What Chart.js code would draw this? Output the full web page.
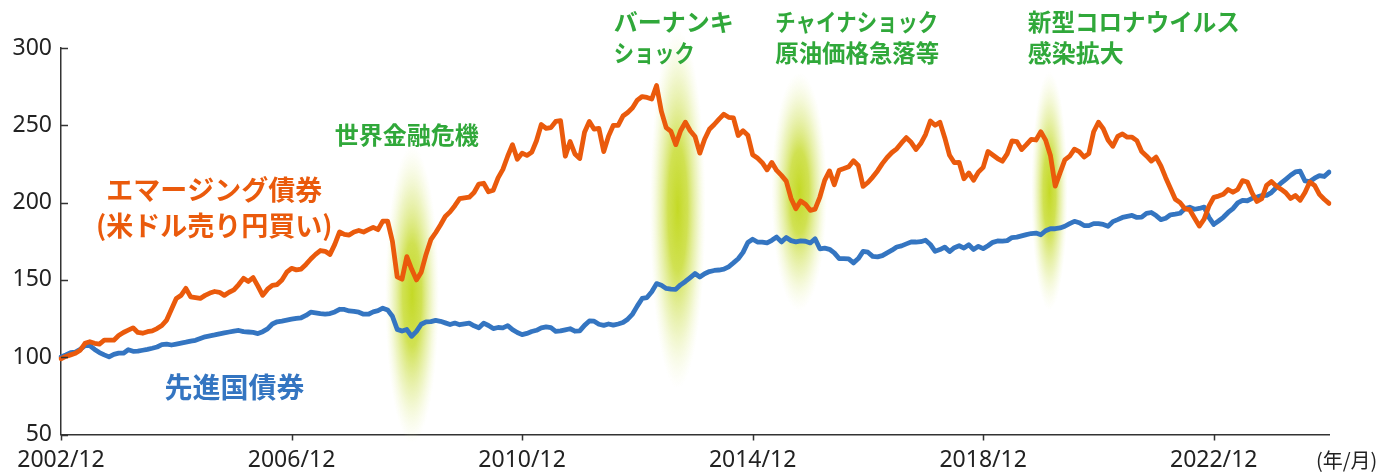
<!DOCTYPE html>
<html lang="ja">
<head>
<meta charset="utf-8">
<script src="https://cdn.jsdelivr.net/npm/chart.js@4.4.1/dist/chart.umd.min.js"></script>
<style>
  html, body { margin: 0; padding: 0; background: #fff; }
  #wrap { width: 1385px; height: 472px; }
</style>
</head>
<body>
<div id="wrap"><canvas id="grafico" width="1385" height="472"></canvas></div>
<script>
// Séries mensais, 2002/12 = 100
const emergentes = [
  99,
  100.5, 101.5, 102.5, 104.5, 109, 110, 109, 108.5, 111, 111, 111, 114,
  116, 117.5, 119, 116, 115.5, 116.5, 117, 118.5, 120.5, 124, 131, 138,
  140, 144.5, 139, 138.5, 138, 140, 141.5, 142.5, 142, 140, 142, 143.5,
  147, 151, 149, 151.5, 146, 140, 144, 146.5, 147, 150, 155, 157.5,
  156.5, 157, 160, 163.5, 166.5, 169, 168.5, 166.5, 173, 181, 179.5, 179,
  181, 182, 181, 182.5, 184, 182.5, 188, 188, 175, 152, 150.5, 165,
  157, 150, 155, 166.5, 176, 180.5, 185.5, 191, 194, 198, 202.5, 203,
  203.5, 206.5, 212, 212.5, 207, 208, 216, 221.5, 230, 237.5, 228, 232,
  230.5, 232.5, 240, 250.5, 248, 248.5, 252.5, 253, 230, 239.5, 231.5, 228.5,
  245.5, 252.5, 247.5, 248, 233, 243, 250, 250, 256, 258.3, 261.3, 266.3,
  268.6, 268, 267, 275.7, 259, 248.5, 246, 237.5, 246.5, 252, 246.5, 242.8,
  232, 241, 247.4, 250.5, 254, 257.1, 255.2, 254.8, 243.4, 246.5, 243.6, 231,
  228.8, 225.8, 221.2, 226, 220.8, 217.6, 213.9, 202.7, 196, 201, 199, 195,
  195.8, 203.6, 214.4, 220.5, 211.5, 220.9, 222, 223.2, 227.1, 224, 210.5, 213,
  216.5, 220.5, 225.2, 229.2, 232.4, 234.8, 238.6, 242, 239, 234.4, 238.2, 244,
  252.8, 250, 251.9, 242, 230.6, 225.8, 226, 215.4, 219.2, 214.5, 219.7, 222.8,
  233.1, 230.8, 228.5, 226.8, 231.5, 239.9, 239.5, 234.3, 237.5, 240.9, 240.5, 245.8,
  240.4, 230.5, 210.7, 219.2, 227.6, 230, 234.6, 233, 229.5, 231.7, 245.8, 252,
  247.8, 240.5, 236.4, 242.8, 244.4, 242.3, 242.3, 240.1, 233.1, 230.2, 226.9, 229.4,
  223.7, 216.1, 209.1, 202.2, 200, 196, 195.4, 190, 184.8, 189.3, 197.7, 203.4,
  204.2, 205.4, 208.5, 206.7, 208.5, 214.2, 213.3, 206.1, 200.7, 202.5, 211.1, 213.6,
  210.7, 208.7, 206.4, 202.6, 204.6, 201.5, 206.5, 213.3, 211.1, 205.3, 202.2, 199.5
];

const desenvolvidos = [
  100.2,
  101.5, 102.9, 103.3, 105, 107.5, 107.5, 105, 103, 101.5, 100.2, 101.8, 102.6,
  102.6, 104.8, 103.8, 103.9, 104.5, 105.1, 105.8, 106.6, 108.1, 108.5, 107.9, 108.5,
  109.1, 109.7, 110.4, 110.9, 112.1, 113.2, 113.8, 114.4, 115.1, 115.7, 116.3, 116.9,
  117.3, 116.5, 116.3, 116, 115.3, 116.5, 118.3, 121.5, 122.9, 123.4, 124, 124.6,
  125.1, 125.5, 127, 129.1, 128.7, 128.2, 127.9, 128.2, 129.3, 131, 130.9, 129.9,
  129.6, 129.1, 127.8, 127.8, 129.3, 130.1, 131.7, 130.6, 126.5, 118, 116.9, 117.9,
  113.5, 116.7, 121.3, 122.8, 123, 123.8, 123.2, 122.2, 121.1, 122.1, 121, 121.5,
  122, 120.3, 119, 122, 120.5, 118.5, 119.2, 119, 120.4, 117.8, 116, 114.6,
  115.4, 116.6, 117.4, 119, 119.6, 119.1, 116.7, 117, 117.7, 118.4, 116.8, 117,
  120.6, 123.4, 123.3, 121.3, 120.6, 121.5, 120.7, 121.5, 122.4, 124.6, 127.9, 133.2,
  138, 138.6, 142.3, 147.6, 146.5, 144.5, 144, 143.9, 146.8, 149, 151.5, 154.1,
  151.9, 154, 155.4, 156.1, 156.4, 156.9, 158.5, 161, 163.7, 167.8, 174.2, 176.3,
  174.5, 174.4, 173.9, 175.6, 177.7, 174.6, 177.4, 175.4, 174.6, 175.2, 175, 173.9,
  176.6, 170.1, 170.5, 169.8, 167.5, 163.8, 163.8, 163.6, 161, 163.8, 168.4, 167.9,
  165.2, 164.9, 165.7, 167.5, 169.2, 171.3, 172, 173.3, 174.5, 174.5, 174.7, 175.7,
  172.9, 168.5, 169.6, 171.2, 168.3, 170.8, 172.1, 170.6, 172.7, 169.7, 171.7, 170.2,
  172.1, 174.3, 175.2, 175.1, 175.4, 177.4, 177.7, 178.5, 179.3, 180, 180.3, 179.2,
  181.8, 183.1, 183.1, 183.6, 184.7, 186.4, 187.9, 187, 185.2, 185.1, 186.4, 186.4,
  185.9, 184.7, 187.7, 189, 190.4, 191.1, 191.7, 190.4, 190.6, 193, 193.6, 191.6,
  189, 189.9, 192.1, 192.5, 193.1, 196.2, 197, 195.7, 196.2, 197.1, 190.5, 185.9,
  188.1, 190.5, 193.6, 196.1, 199.8, 201.5, 201.2, 202.8, 203.6, 204.5, 204.7, 206.5,
  209.6, 212.6, 215.1, 217.7, 219.8, 220.3, 214, 213.6, 215.8, 217.4, 216.9, 219.7
];

const rotulosX = ['2002/12', '2006/12', '2010/12', '2014/12', '2018/12', '2022/12'];
const ticksY = [50, 100, 150, 200, 250, 300];

// Meses: 2002/12 em diante
const meses = [];
for (let i = 0; i < emergentes.length; i++) {
    const total = 2002 * 12 + 11 + i;
    meses.push(Math.floor(total / 12) + '/' + String(total % 12 + 1).padStart(2, '0'));
}

const laranja = '#ea5a0c';
const azul = '#3475c1';
const verde = '#30a83a';
const corEixo = '#333333';

// Eventos (brilho verde): mês central, valor central, meia altura (valor), meia largura (meses)
const brilhos = [
    { mes: 73.1, valor: 140.5, meiaAltura: 96, meiaLargura: 5.6 },
    { mes: 128.4, valor: 196, meiaAltura: 116, meiaLargura: 5.8 },
    { mes: 153.7, valor: 207, meiaAltura: 77, meiaLargura: 5.8 },
    { mes: 205.8, valor: 207.5, meiaAltura: 77, meiaLargura: 3.8 }
];

// Textos de anotação, ancorados na escala (larguras = largura máx. de cada linha)
const notas = [
    { linhas: ['エマージング債券', '(米ドル売り円買い)'], mes: 31.9, valor: 208.2, cor: laranja, alinhar: 'center', tamanho: 27, entrelinha: 36 },
    { linhas: ['先進国債券'], mes: 36.1, valor: 80.6, cor: azul, alinhar: 'center', tamanho: 28, entrelinha: 0 },
    { linhas: ['世界金融危機'], mes: 72, valor: 243.7, cor: verde, alinhar: 'center', tamanho: 24, entrelinha: 0 },
    { linhas: ['バーナンキ', 'ショック'], larguras: [121, 81], mes: 115.1, valor: 316.8, cor: verde, alinhar: 'left', tamanho: 24, entrelinha: 31 },
    { linhas: ['チャイナショック', '原油価格急落等'], larguras: [163, 164], mes: 148.7, valor: 316.8, cor: verde, alinhar: 'left', tamanho: 24, entrelinha: 31 },
    { linhas: ['新型コロナウイルス', '感染拡大'], larguras: [212, 96], mes: 201.3, valor: 316.8, cor: verde, alinhar: 'left', tamanho: 24, entrelinha: 31 }
];

const brilhoPlugin = {
    id: 'brilho',
    beforeDatasetsDraw(chart) {
        const { ctx, scales: { x, y } } = chart;
        const passo = x.width / (meses.length - 1);
        brilhos.forEach(b => {
            const cx = x.getPixelForValue(b.mes);
            const cy = y.getPixelForValue(b.valor);
            const ry = Math.abs(y.getPixelForValue(b.valor + b.meiaAltura) - cy);
            const rx = b.meiaLargura * passo;
            ctx.save();
            ctx.translate(cx, cy);
            ctx.scale(rx / ry, 1);
            const g = ctx.createRadialGradient(0, 0, 0, 0, 0, ry);
            g.addColorStop(0, 'rgba(196,217,38,1)');
            g.addColorStop(0.35, 'rgba(200,220,52,0.85)');
            g.addColorStop(0.7, 'rgba(214,230,110,0.4)');
            g.addColorStop(1, 'rgba(235,243,180,0)');
            ctx.fillStyle = g;
            ctx.beginPath();
            ctx.arc(0, 0, ry, 0, Math.PI * 2);
            ctx.fill();
            ctx.restore();
        });
    }
};

const marcasPlugin = {
    id: 'marcas',
    afterDraw(chart) {
        const { ctx, scales: { x, y } } = chart;
        ctx.save();
        ctx.strokeStyle = corEixo;
        ctx.lineWidth = 1.5;
        ctx.beginPath();
        ticksY.forEach(v => {
            const py = Math.round(y.getPixelForValue(v)) + 0.5;
            ctx.moveTo(x.left, py);
            ctx.lineTo(x.left + 7, py);
        });
        rotulosX.forEach(r => {
            const px = Math.round(x.getPixelForValue(meses.indexOf(r))) + 0.5;
            ctx.moveTo(px, y.bottom);
            ctx.lineTo(px, y.bottom + 6);
        });
        ctx.stroke();

        // anotações
        ctx.textBaseline = 'middle';
        notas.forEach(n => {
            const px = x.getPixelForValue(n.mes);
            const py = y.getPixelForValue(n.valor);
            ctx.font = `bold ${n.tamanho}px 'Noto Sans CJK JP', sans-serif`;
            ctx.fillStyle = n.cor;
            ctx.textAlign = n.alinhar;
            n.linhas.forEach((t, i) => {
                if (n.larguras) ctx.fillText(t, px, py + i * n.entrelinha, n.larguras[i]);
                else ctx.fillText(t, px, py + i * n.entrelinha);
            });
        });

        // unidade do eixo x
        ctx.font = "20px 'Noto Sans CJK JP', sans-serif";
        ctx.fillStyle = '#222';
        ctx.textAlign = 'left';
        ctx.fillText('(年/月)', x.right - 13, y.bottom + 26);
        ctx.restore();
    }
};

const fonteTick = { family: "'Noto Sans', sans-serif", size: 23 };

new Chart(document.getElementById('grafico'), {
    type: 'line',
    data: {
        labels: meses,
        datasets: [
            {
                label: 'エマージング債券（米ドル売り円買い）',
                data: emergentes,
                borderColor: laranja,
                borderWidth: 4.8,
                pointRadius: 0,
                tension: 0,
                borderJoinStyle: 'round',
                borderCapStyle: 'round'
            },
            {
                label: '先進国債券',
                data: desenvolvidos,
                borderColor: azul,
                borderWidth: 4.8,
                pointRadius: 0,
                tension: 0,
                borderJoinStyle: 'round',
                borderCapStyle: 'round'
            }
        ]
    },
    options: {
        responsive: false,
        animation: false,
        devicePixelRatio: 1,
        layout: { padding: { top: 48, right: 56, left: 0, bottom: 0 } },
        plugins: {
            legend: { display: false },
            tooltip: { enabled: false }
        },
        scales: {
            x: {
                offset: false,
                grid: { display: false, drawTicks: false },
                border: { display: true, color: corEixo, width: 1.5 },
                ticks: {
                    autoSkip: false,
                    maxRotation: 0,
                    minRotation: 0,
                    padding: 12,
                    color: '#222',
                    font: fonteTick,
                    callback: (v, i) => rotulosX.includes(meses[i]) ? meses[i] : ''
                },
                afterFit: s => { s.height = 37.5; }
            },
            y: {
                min: 50,
                max: 300,
                grid: { display: false, drawTicks: false },
                border: { display: true, color: corEixo, width: 1.5 },
                ticks: { stepSize: 50, padding: 9, color: '#222', font: fonteTick },
                afterFit: s => { s.width = 61; }
            }
        }
    },
    plugins: [brilhoPlugin, marcasPlugin]
});
</script>
</body>
</html>
